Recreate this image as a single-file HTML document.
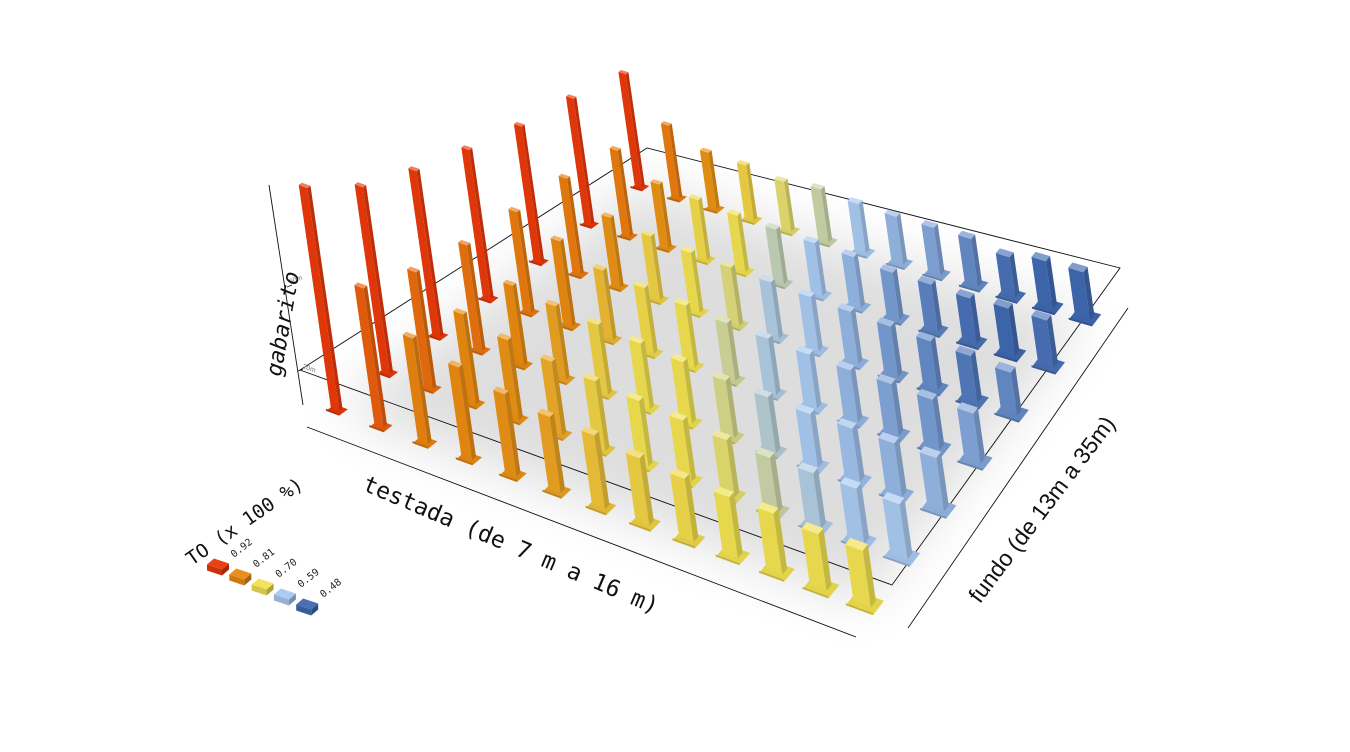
<!DOCTYPE html>
<html><head><meta charset="utf-8"><style>
html,body{margin:0;padding:0;background:#fff;}
svg{display:block;}
</style></head><body>
<svg id="chart" width="1350" height="752" viewBox="0 0 1350 752" xmlns="http://www.w3.org/2000/svg">
<defs>
<filter id="blur" x="-30%" y="-30%" width="160%" height="160%"><feGaussianBlur stdDeviation="28"/></filter>
</defs>
<rect width="1350" height="752" fill="#fff"/>
<g id="shadow"></g>
<g stroke="#111" stroke-width="0.9" fill="none">
<line x1="269" y1="185" x2="303" y2="405"/>
<line x1="307" y1="427" x2="856" y2="637"/>
<line x1="908" y1="628" x2="1128" y2="308"/>
<polygon points="300,370 892,585 1120,268 647,148"/>
<line x1="287" y1="287" x2="292" y2="285"/>
<line x1="298" y1="371" x2="303" y2="369"/>
</g>
<text x="290" y="284" font-family="Liberation Sans, sans-serif" font-size="7" fill="#777" transform="rotate(-20 290 284)">60m</text>
<text x="302" y="368" font-family="Liberation Sans, sans-serif" font-size="7" fill="#777" transform="rotate(20 302 368)">20m</text>
<g id="bars"></g>
<text x="0" y="0" font-family="DejaVu Sans Mono, Liberation Mono, monospace" font-style="italic" font-size="22" fill="#111" text-anchor="middle" transform="translate(290 325) rotate(-80)">gabarito</text>
<text x="0" y="0" font-family="DejaVu Sans Mono, Liberation Mono, monospace" font-size="23" fill="#111" text-anchor="middle" transform="translate(508 552) rotate(23)">testada (de 7 m a 16 m)</text>
<text x="0" y="0" font-family="Liberation Sans, sans-serif" font-size="23" fill="#111" text-anchor="middle" transform="translate(1048 514) rotate(-53)">fundo (de 13m a 35m)</text>
<text x="0" y="0" font-family="DejaVu Sans Mono, Liberation Mono, monospace" font-size="19" fill="#111" transform="translate(192 566) rotate(-35)">TO (x 100 %)</text>
<g id="legend"></g>
</svg>
<script>
const testadaCats = [7,7.75,8.5,9.25,10,10.75,11.5,12.25,13,13.75,14.5,15.25,16];
const fundoCats = [13,16.7,20.3,24,27.7,31.3,35];
const gab0 = [106,66,50,44,39,36,35,32,30,29,29,27,27];
const gab1 = [91,57,44,39,36,34,32,30,28,27,27,27,27];
const gab2 = [83,53,40,37,35,33,31,29,28,27,27,27,27];
const gab3 = [77,52,44,36,34,32,30,29,28,27,27,26,26];
const gab4 = [72,51,37,34,32,31,30,29,28,27,26,25,23];
const gab5 = [69,47,35,33,31,30,29,28,26,26,25,26,26];
const gab6 = [64,41,32,31,28,30,28,27,27,27,23,27,27];
const to0 = [.92,.87,.82,.81,.80,.78,.74,.72,.71,.70,.70,.70,.70];
const to1 = [.92,.85,.81,.80,.77,.72,.70,.70,.68,.64,.60,.59,.59];
const to2 = [.92,.84,.81,.78,.72,.70,.70,.66,.61,.59,.58,.57,.57];
const to3 = [.92,.83,.81,.75,.71,.70,.65,.60,.59,.57,.55,.54,.55];
const to4 = [.92,.83,.80,.72,.70,.67,.60,.59,.57,.54,.52,.50,.52];
const to5 = [.92,.83,.80,.71,.70,.63,.59,.57,.54,.51,.49,.48,.49];
const to6 = [.92,.83,.80,.72,.68,.64,.59,.57,.55,.52,.49,.48,.48];
const legendValues = [0.92,0.81,0.70,0.59,0.48];
const legendLabels = ["0.92","0.81","0.70","0.59","0.48"];

const gab = [gab0,gab1,gab2,gab3,gab4,gab5,gab6];
const tos = [to0,to1,to2,to3,to4,to5,to6];
const NS = "http://www.w3.org/2000/svg";
const stops = [[0.48,[63,104,176]],[0.59,[168,200,240]],[0.70,[240,224,80]],[0.81,[232,138,16]],[0.92,[232,56,10]]];
function color(t, k){
  let c = stops[0][1];
  if (t >= stops[4][0]) c = stops[4][1];
  else for (let s=0;s<4;s++){ if(t>=stops[s][0]&&t<=stops[s+1][0]){const f=(t-stops[s][0])/(stops[s+1][0]-stops[s][0]);c=stops[s][1].map((v,q)=>v+(stops[s+1][1][q]-v)*f);break;} }
  const r = c.map(v=> k>=0 ? v+(255-v)*k : v*(1+k));
  return "rgb("+r.map(v=>Math.round(v)).join(",")+")";
}
const C00=[337,410], C10=[865,603], C01=[640,187], C11=[1085,317];
function xIndex(v){ return testadaCats.indexOf(v)/(testadaCats.length-1); }
function zIndex(v){ return fundoCats.indexOf(v)/(fundoCats.length-1); }
function floor(a,b){
  return [0,1].map(k=>C00[k]*(1-a)*(1-b)+C10[k]*a*(1-b)+C01[k]*(1-a)*b+C11[k]*a*b);
}
function depthScale(b){ return 1-0.16*b; }
function yScale(v,b){ return v*2.1*depthScale(b); }
const UP=[-0.144,-1];
function poly(g, pts, fill, name, op){
  const p=document.createElementNS(NS,"polygon");
  p.setAttribute("points", pts.map(q=>q[0].toFixed(1)+","+q[1].toFixed(1)).join(" "));
  p.setAttribute("fill", fill);
  if(op) p.setAttribute("opacity", op);
  
  
  g.appendChild(p);
}
const add=(p,q,k)=>[p[0]+q[0]*k,p[1]+q[1]*k];
const sh=document.getElementById("shadow");
const shp=document.createElementNS(NS,"polygon");
const s1=floor(0,0),s2=floor(1,0),s3=floor(1,1),s4=floor(0,1);
shp.setAttribute("points",[s1,s2,s3,s4].map(q=>q.join(",")).join(" "));
shp.setAttribute("fill","#000");shp.setAttribute("opacity","0.13");shp.setAttribute("filter","url(#blur)");


sh.appendChild(shp);

const bars=[];
for(let j=0;j<fundoCats.length;j++) for(let i=0;i<testadaCats.length;i++){
  const a=xIndex(testadaCats[i]), b=zIndex(fundoCats[j]);
  bars.push({i,j,a,b,base:floor(a,b),v:gab[j][i],t:tos[j][i]});
}
bars.sort((p,q)=>p.base[1]-q.base[1]);
const gb=document.getElementById("bars");
for(const bar of bars){
  const s=depthScale(bar.b);
  const pa=floor(bar.a+0.02,bar.b), pb=floor(bar.a-0.02,bar.b);
  let ui=[pa[0]-pb[0],pa[1]-pb[1]]; let L=Math.hypot(ui[0],ui[1]); ui=[ui[0]/L,ui[1]/L];
  const qa=floor(bar.a,bar.b+0.03), qb=floor(bar.a,bar.b-0.03);
  let vj=[qa[0]-qb[0],qa[1]-qb[1]]; L=Math.hypot(vj[0],vj[1]); vj=[vj[0]/L,vj[1]/L];
  const w=(9+0.8*bar.i)*s, d=(4+0.35*bar.i)*s;
  const h=yScale(bar.v,bar.b);
  const g=document.createElementNS(NS,"g");
  
  
  gb.appendChild(g);
  const B=bar.base;
  const pw=w*1.55, pd=d*1.7+4*s;
  const P0=add(add(B,ui,-pw/2),vj,-pd/2), P1=add(P0,ui,pw), P2=add(P1,vj,pd), P3=add(P0,vj,pd);
  poly(g,[P0,P1,P2,P3],color(bar.t,-0.06),'base-plate');
  poly(g,[P0,P1,add(P1,UP,2),add(P0,UP,2)],color(bar.t,-0.2),'base-plate-edge');
  const Bb=add(B,UP,2);
  const A=add(add(Bb,ui,-w/2),vj,-d/2), A2=add(A,ui,w), A3=add(A2,vj,d), A4=add(A,vj,d);
  const T=q=>add(q,UP,h);
  poly(g,[A,A4,T(A4),T(A)],color(bar.t,0.2),'bar-side');
  poly(g,[A,A2,T(A2),T(A)],color(bar.t,-0.04),'bar-front');
  poly(g,[A2,A3,T(A3),T(A2)],color(bar.t,-0.18),'bar-right');
  poly(g,[T(A),T(A2),T(A3),T(A4)],color(bar.t,0.35),'bar-top');
}
const lg=document.getElementById("legend");
legendValues.forEach((v,k)=>{
  const cx=218+k*22.3, cy=564+k*10;
  const g=document.createElementNS(NS,"g");
  
  
  lg.appendChild(g);
  const u=[15,5], vv=[7,-6], dn=[0,6];
  const c0=[cx-u[0]/2-vv[0]/2,cy-u[1]/2-vv[1]/2], c1=add(c0,u,1), c2=add(c1,vv,1), c3=add(c0,vv,1);
  poly(g,[c0,c1,add(c1,dn,1),add(c0,dn,1)],color(v,-0.12),'legend-swatch-front');
  poly(g,[c1,c2,add(c2,dn,1),add(c1,dn,1)],color(v,-0.28),'legend-swatch-side');
  poly(g,[c0,c1,c2,c3],color(v,0.05),'legend-swatch-top');
  const t=document.createElementNS(NS,"text");
  const tx=cx+16, ty=cy-6;
  t.setAttribute("x",tx);t.setAttribute("y",ty);
  t.setAttribute("font-family","DejaVu Sans Mono, Liberation Mono, monospace");
  t.setAttribute("font-size","10");t.setAttribute("fill","#222");
  t.setAttribute("transform","rotate(-38 "+tx+" "+ty+")");
  t.textContent=legendLabels[k];
  
  
  g.appendChild(t);
});
</script>
</body></html>
